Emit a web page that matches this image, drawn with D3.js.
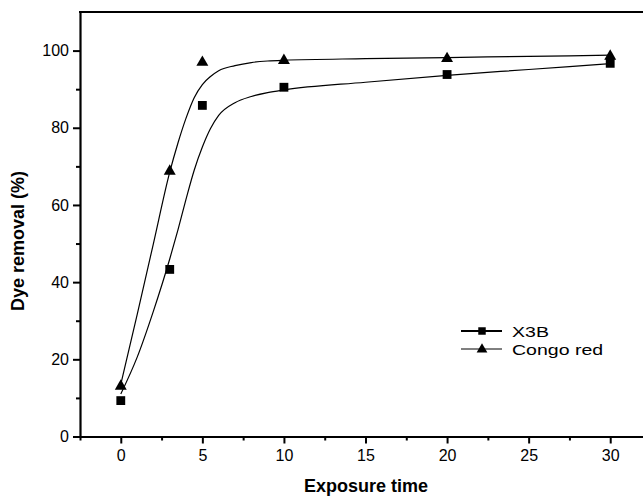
<!DOCTYPE html>
<html>
<head>
<meta charset="utf-8">
<script src="https://cdn.jsdelivr.net/npm/d3@7"></script>
<style>
  html, body { margin: 0; padding: 0; background: #fff; }
  svg { display: block; font-family: "Liberation Sans", Arial, Helvetica, sans-serif; }
</style>
</head>
<body>
<svg id="chart" width="643" height="497"></svg>
<script>
// ---- data ----
const times = [0, 3, 5, 10, 20, 30];
const x3bValues = [9.3, 43.3, 85.8, 90.5, 93.8, 96.7];
const congoValues = [13.3, 69.0, 97.2, 97.7, 98.2, 98.8];

// fitted curves as drawn in the reference
const fitX = [0, 1, 2, 3, 3.5, 4, 4.5, 5, 5.5, 6, 7, 8, 9, 10, 15, 20, 25, 30];
const x3bFit = [11, 20.5, 32.5, 46, 53.5, 61.5, 69, 75, 79.8, 83.2, 86.5, 88.1, 89.1, 89.8, 91.8, 93.6, 95.1, 96.6];
const congoFit = [13.5, 31.5, 50, 68.5, 76, 82.5, 87.8, 91.2, 93.3, 94.8, 96.1, 96.9, 97.3, 97.5, 97.9, 98.2, 98.5, 98.8];

const xTicks = [0, 5, 10, 15, 20, 25, 30];
const xMinorTicks = [-2.5, 2.5, 7.5, 12.5, 17.5, 22.5, 27.5];
const yTicks = [0, 20, 40, 60, 80, 100];
const yMinorTicks = [10, 30, 50, 70, 90];
const seriesNames = ["X3B", "Congo red"];

// ---- layout ----
const svg = d3.select("#chart");
const mLeft = 80, mRight = 651, mTop = 12, mBottom = 436.5;
const x = d3.scaleLinear().domain([-2.5, 32.5]).range([mLeft, mRight]);
const y = d3.scaleLinear().domain([0, 110]).range([mBottom, mTop]);

// frame top
svg.append("line").attr("x1", mLeft - 1).attr("x2", mRight).attr("y1", mTop).attr("y2", mTop)
  .attr("stroke", "#000").attr("stroke-width", 2);

// x axis
const xAxis = svg.append("g").attr("transform", `translate(0,${mBottom})`)
  .call(d3.axisBottom(x).tickValues(xTicks).tickSize(7).tickSizeOuter(0).tickPadding(6).tickFormat(d3.format("d")));
const xMinor = svg.append("g").attr("transform", `translate(0,${mBottom})`)
  .call(d3.axisBottom(x).tickValues(xMinorTicks).tickSize(4).tickSizeOuter(0).tickFormat(""));
// y axis
const yAxis = svg.append("g").attr("transform", `translate(${mLeft},0)`)
  .call(d3.axisLeft(y).tickValues(yTicks).tickSize(7).tickSizeOuter(0).tickPadding(4).tickFormat(d3.format("d")));
const yMinor = svg.append("g").attr("transform", `translate(${mLeft},0)`)
  .call(d3.axisLeft(y).tickValues(yMinorTicks).tickSize(4).tickSizeOuter(0).tickFormat(""));

[xAxis, xMinor, yAxis, yMinor].forEach(g => {
  g.selectAll(".domain").attr("stroke", "#000").attr("stroke-width", 2.2);
  g.selectAll(".tick line").attr("stroke", "#000").attr("stroke-width", 2);
  g.selectAll(".tick text").attr("fill", "#000").attr("font-size", 16)
    .attr("font-family", "'Liberation Sans', Arial, sans-serif");
});
xMinor.select(".domain").remove();
yMinor.select(".domain").remove();

// axis titles
svg.append("text").attr("x", 366).attr("y", 492).attr("text-anchor", "middle")
  .attr("font-weight", "bold").attr("font-size", 18).text("Exposure time");
svg.append("text").attr("transform", "translate(24,241) rotate(-90)").attr("text-anchor", "middle")
  .attr("font-weight", "bold").attr("font-size", 18).text("Dye removal (%)");

// fitted lines
const line = d3.line().x(d => x(d[0])).y(d => y(d[1])).curve(d3.curveMonotoneX);
svg.append("path").datum(fitX.map((t, i) => [t, x3bFit[i]]))
  .attr("d", line).attr("fill", "none").attr("stroke", "#000").attr("stroke-width", 1.2);
svg.append("path").datum(fitX.map((t, i) => [t, congoFit[i]]))
  .attr("d", line).attr("fill", "none").attr("stroke", "#000").attr("stroke-width", 1.2);

// markers
const sq = d3.symbol().type(d3.symbolSquare).size(78);
const tri = d3.symbol().type(d3.symbolTriangle).size(62);
svg.append("g").selectAll("path").data(times.map((t, i) => [t, congoValues[i]])).join("path")
  .attr("transform", d => `translate(${x(d[0])},${y(d[1]) + 1})`).attr("d", tri).attr("fill", "#000");
svg.append("g").selectAll("path").data(times.map((t, i) => [t, x3bValues[i]])).join("path")
  .attr("transform", d => `translate(${x(d[0])},${y(d[1])})`).attr("d", sq).attr("fill", "#000");

// legend
const legend = svg.append("g");
const legY = [331, 349];
const legW = [2, 1];
seriesNames.forEach((name, i) => {
  legend.append("line").attr("x1", 461).attr("x2", 502).attr("y1", legY[i]).attr("y2", legY[i])
    .attr("stroke", "#000").attr("stroke-width", legW[i]);
  legend.append("path").attr("transform", `translate(482,${legY[i] + (i === 1 ? 0.5 : 0)})`)
    .attr("d", i === 0 ? d3.symbol().type(d3.symbolSquare).size(56)() : d3.symbol().type(d3.symbolTriangle).size(50)())
    .attr("fill", "#000");
  legend.append("text").attr("transform", `translate(512,${legY[i] + 5.5}) scale(1.26,1)`)
    .attr("font-size", 15.5).text(name);
});
</script>
</body>
</html>
